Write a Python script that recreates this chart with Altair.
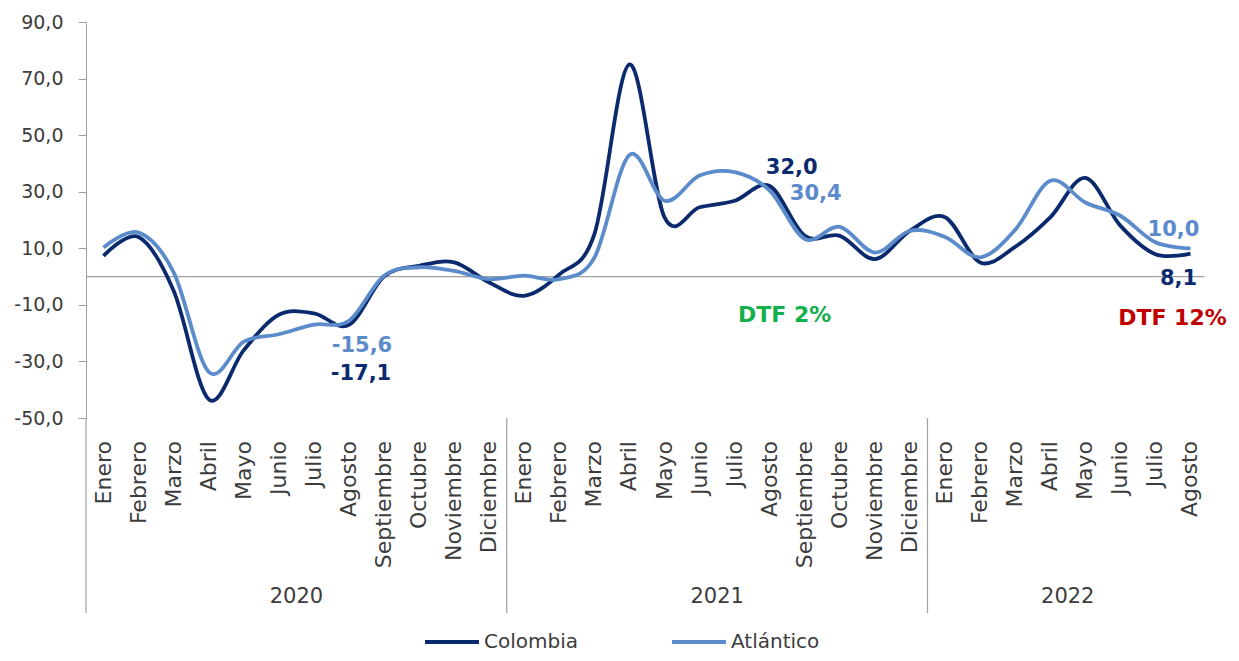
import altair as alt
import pandas as pd

# ---------------- data ----------------
months_2020 = ["Enero", "Febrero", "Marzo", "Abril", "Mayo", "Junio", "Julio",
               "Agosto", "Septiembre", "Octubre", "Noviembre", "Diciembre"]
months_2021 = ["Enero", "Febrero", "Marzo", "Abril", "Mayo", "Junio", "Julio",
               "Agosto", "Septiembre", "Octubre", "Noviembre", "Diciembre"]
months_2022 = ["Enero", "Febrero", "Marzo", "Abril", "Mayo", "Junio", "Julio", "Agosto"]
years = ["2020", "2021", "2022"]

colombia = [7.3, 14.0, -5.0, -43.4, -26.0, -13.5, -13.0, -17.1, 0.0, 3.8, 5.0, -2.1,
            -6.8, 0.8, 15.0, 75.0, 20.9, 24.5, 26.8, 32.0, 14.4, 14.4, 6.2, 16.2,
            21.0, 5.0, 10.5, 20.9, 34.9, 18.0, 7.9, 8.1]
atlantico = [10.3, 15.6, 1.5, -33.7, -23.0, -20.4, -17.0, -15.6, 0.3, 3.3, 2.0, -0.9,
             0.3, -0.9, 6.7, 43.0, 26.8, 35.7, 36.9, 30.4, 13.3, 17.6, 8.5, 16.2,
             14.0, 6.8, 16.5, 33.9, 26.2, 21.5, 12.1, 10.0]
series_names = ["Colombia", "Atlántico"]
series_colors = ["#0B2A6E", "#5B8BCB"]
y_ticks = [-50, -30, -10, 10, 30, 50, 70, 90]
dtf_labels = ["DTF 2%", "DTF 12%"]

# ---------------- tables ----------------
month_groups = [months_2020, months_2021, months_2022]
rows_m = []
i = 0
for yr, ms in zip(years, month_groups):
    for m in ms:
        rows_m.append({"pos": i + 0.5, "month": m, "year": yr})
        i += 1
months_df = pd.DataFrame(rows_m)
n_total = len(months_df)

rows = []
for k, r in months_df.iterrows():
    rows.append({"pos": r["pos"], "series": "Colombia", "value": colombia[k]})
    rows.append({"pos": r["pos"], "series": "Atlántico", "value": atlantico[k]})
df = pd.DataFrame(rows)

bounds = [0]
for ms in month_groups:
    bounds.append(bounds[-1] + len(ms))
years_df = pd.DataFrame({"year": years,
                         "mid": [(bounds[j] + bounds[j + 1]) / 2 for j in range(len(years))]})
sep_df = pd.DataFrame({"x": bounds[:-1]})
zero_df = pd.DataFrame({"x": [0], "x2": [n_total - 0.1], "y": [0]})

def fmt(v):
    return f"{v:.1f}".replace(".", ",")

FONT = "DejaVu Sans"
GRAY = "#A0A0A0"
TXT = "#3C3C3C"

xscale = alt.Scale(domain=[0, n_total], nice=False, zero=False)
yscale = alt.Scale(domain=[-50, 90], nice=False)

base_x = alt.X("pos:Q", scale=xscale, axis=None)

color = alt.Color(
    "series:N",
    scale=alt.Scale(domain=series_names, range=series_colors),
    legend=alt.Legend(
        title=None, orient="none", direction="horizontal",
        legendX=337, legendY=591,
        symbolType="stroke", symbolSize=2916, symbolStrokeWidth=4,
        labelFont=FONT, labelFontSize=20, labelColor=TXT, labelOffset=3,
        columnPadding=86,
    ),
)

yaxis = alt.Axis(
    values=y_ticks, grid=False, title=None,
    labelExpr="replace(replace(format(datum.value, '.1f'), '.', ','), '\u2212', '-')",
    labelFont=FONT, labelFontSize=19, labelColor=TXT, labelPadding=15,
    domainColor=GRAY, tickColor=GRAY, tickSize=8,
)

zero_rule = alt.Chart(zero_df).mark_rule(color=GRAY, strokeWidth=1.3).encode(
    x=alt.X("x:Q", scale=xscale, axis=None), x2="x2:Q",
    y=alt.Y("y:Q", scale=yscale, axis=yaxis)
)

line_col = alt.Chart(df).transform_filter(alt.datum.series == "Colombia").mark_line(
    interpolate="cardinal", strokeWidth=3.8
).encode(x=base_x, y=alt.Y("value:Q", scale=yscale, axis=yaxis), color=color)

line_atl = alt.Chart(df).transform_filter(alt.datum.series == "Atlántico").mark_line(
    interpolate="cardinal", strokeWidth=3.8
).encode(x=base_x, y=alt.Y("value:Q", scale=yscale, axis=yaxis), color=color)

seps = alt.Chart(sep_df).mark_rule(color=GRAY, strokeWidth=1.2).encode(
    x=alt.X("x:Q", scale=xscale, axis=None), y=alt.value(396), y2=alt.value(591)
)

month_text = alt.Chart(months_df).mark_text(
    angle=270, align="right", baseline="middle", font=FONT, fontSize=22, color=TXT
).encode(x=base_x, y=alt.value(419), text="month:N")

year_text = alt.Chart(years_df).mark_text(
    align="center", baseline="middle", font=FONT, fontSize=21, color=TXT
).encode(x=alt.X("mid:Q", scale=xscale, axis=None), y=alt.value(575), text="year:N")

def value_label(idx, values, col, dx, dy):
    d = pd.DataFrame({"pos": [months_df["pos"][idx]], "value": [values[idx]],
                      "label": [fmt(values[idx])]})
    return alt.Chart(d).mark_text(
        font=FONT, fontSize=21, fontWeight="bold", color=col, dx=dx, dy=dy,
        align="center", baseline="middle"
    ).encode(x=base_x, y=alt.Y("value:Q", scale=yscale, axis=yaxis), text="label:N")

labels = [
    value_label(7, atlantico, series_colors[1], 13, 25),
    value_label(7, colombia, series_colors[0], 12, 49),
    value_label(19, colombia, series_colors[0], 22, -18),
    value_label(19, atlantico, series_colors[1], 46, 3),
    value_label(31, atlantico, series_colors[1], -17, -18),
    value_label(31, colombia, series_colors[0], -12, 25),
]

def dtf_label(text, idx, col, dx, dy):
    d = pd.DataFrame({"pos": [months_df["pos"][idx]], "value": [0], "label": [text]})
    return alt.Chart(d).mark_text(
        font=FONT, fontSize=22, fontWeight="bold", color=col, dx=dx, dy=dy,
        align="center", baseline="middle"
    ).encode(x=base_x, y=alt.Y("value:Q", scale=yscale, axis=yaxis), text="label:N")

dtfs = [
    dtf_label(dtf_labels[0], 19, "#12B04C", 15, 38),
    dtf_label(dtf_labels[1], 31, "#C00000", -18, 41),
]

chart = alt.layer(
    zero_rule, seps, line_col, line_atl, month_text, year_text, *labels, *dtfs
).properties(
    width=1122, height=396,
    padding={"left": 78, "top": 14, "right": 23, "bottom": 235},
    autosize=alt.AutoSizeParams(type="none"),
).configure_view(stroke=None)

chart.save("out.html", embed_options={"renderer": "svg", "actions": False})
